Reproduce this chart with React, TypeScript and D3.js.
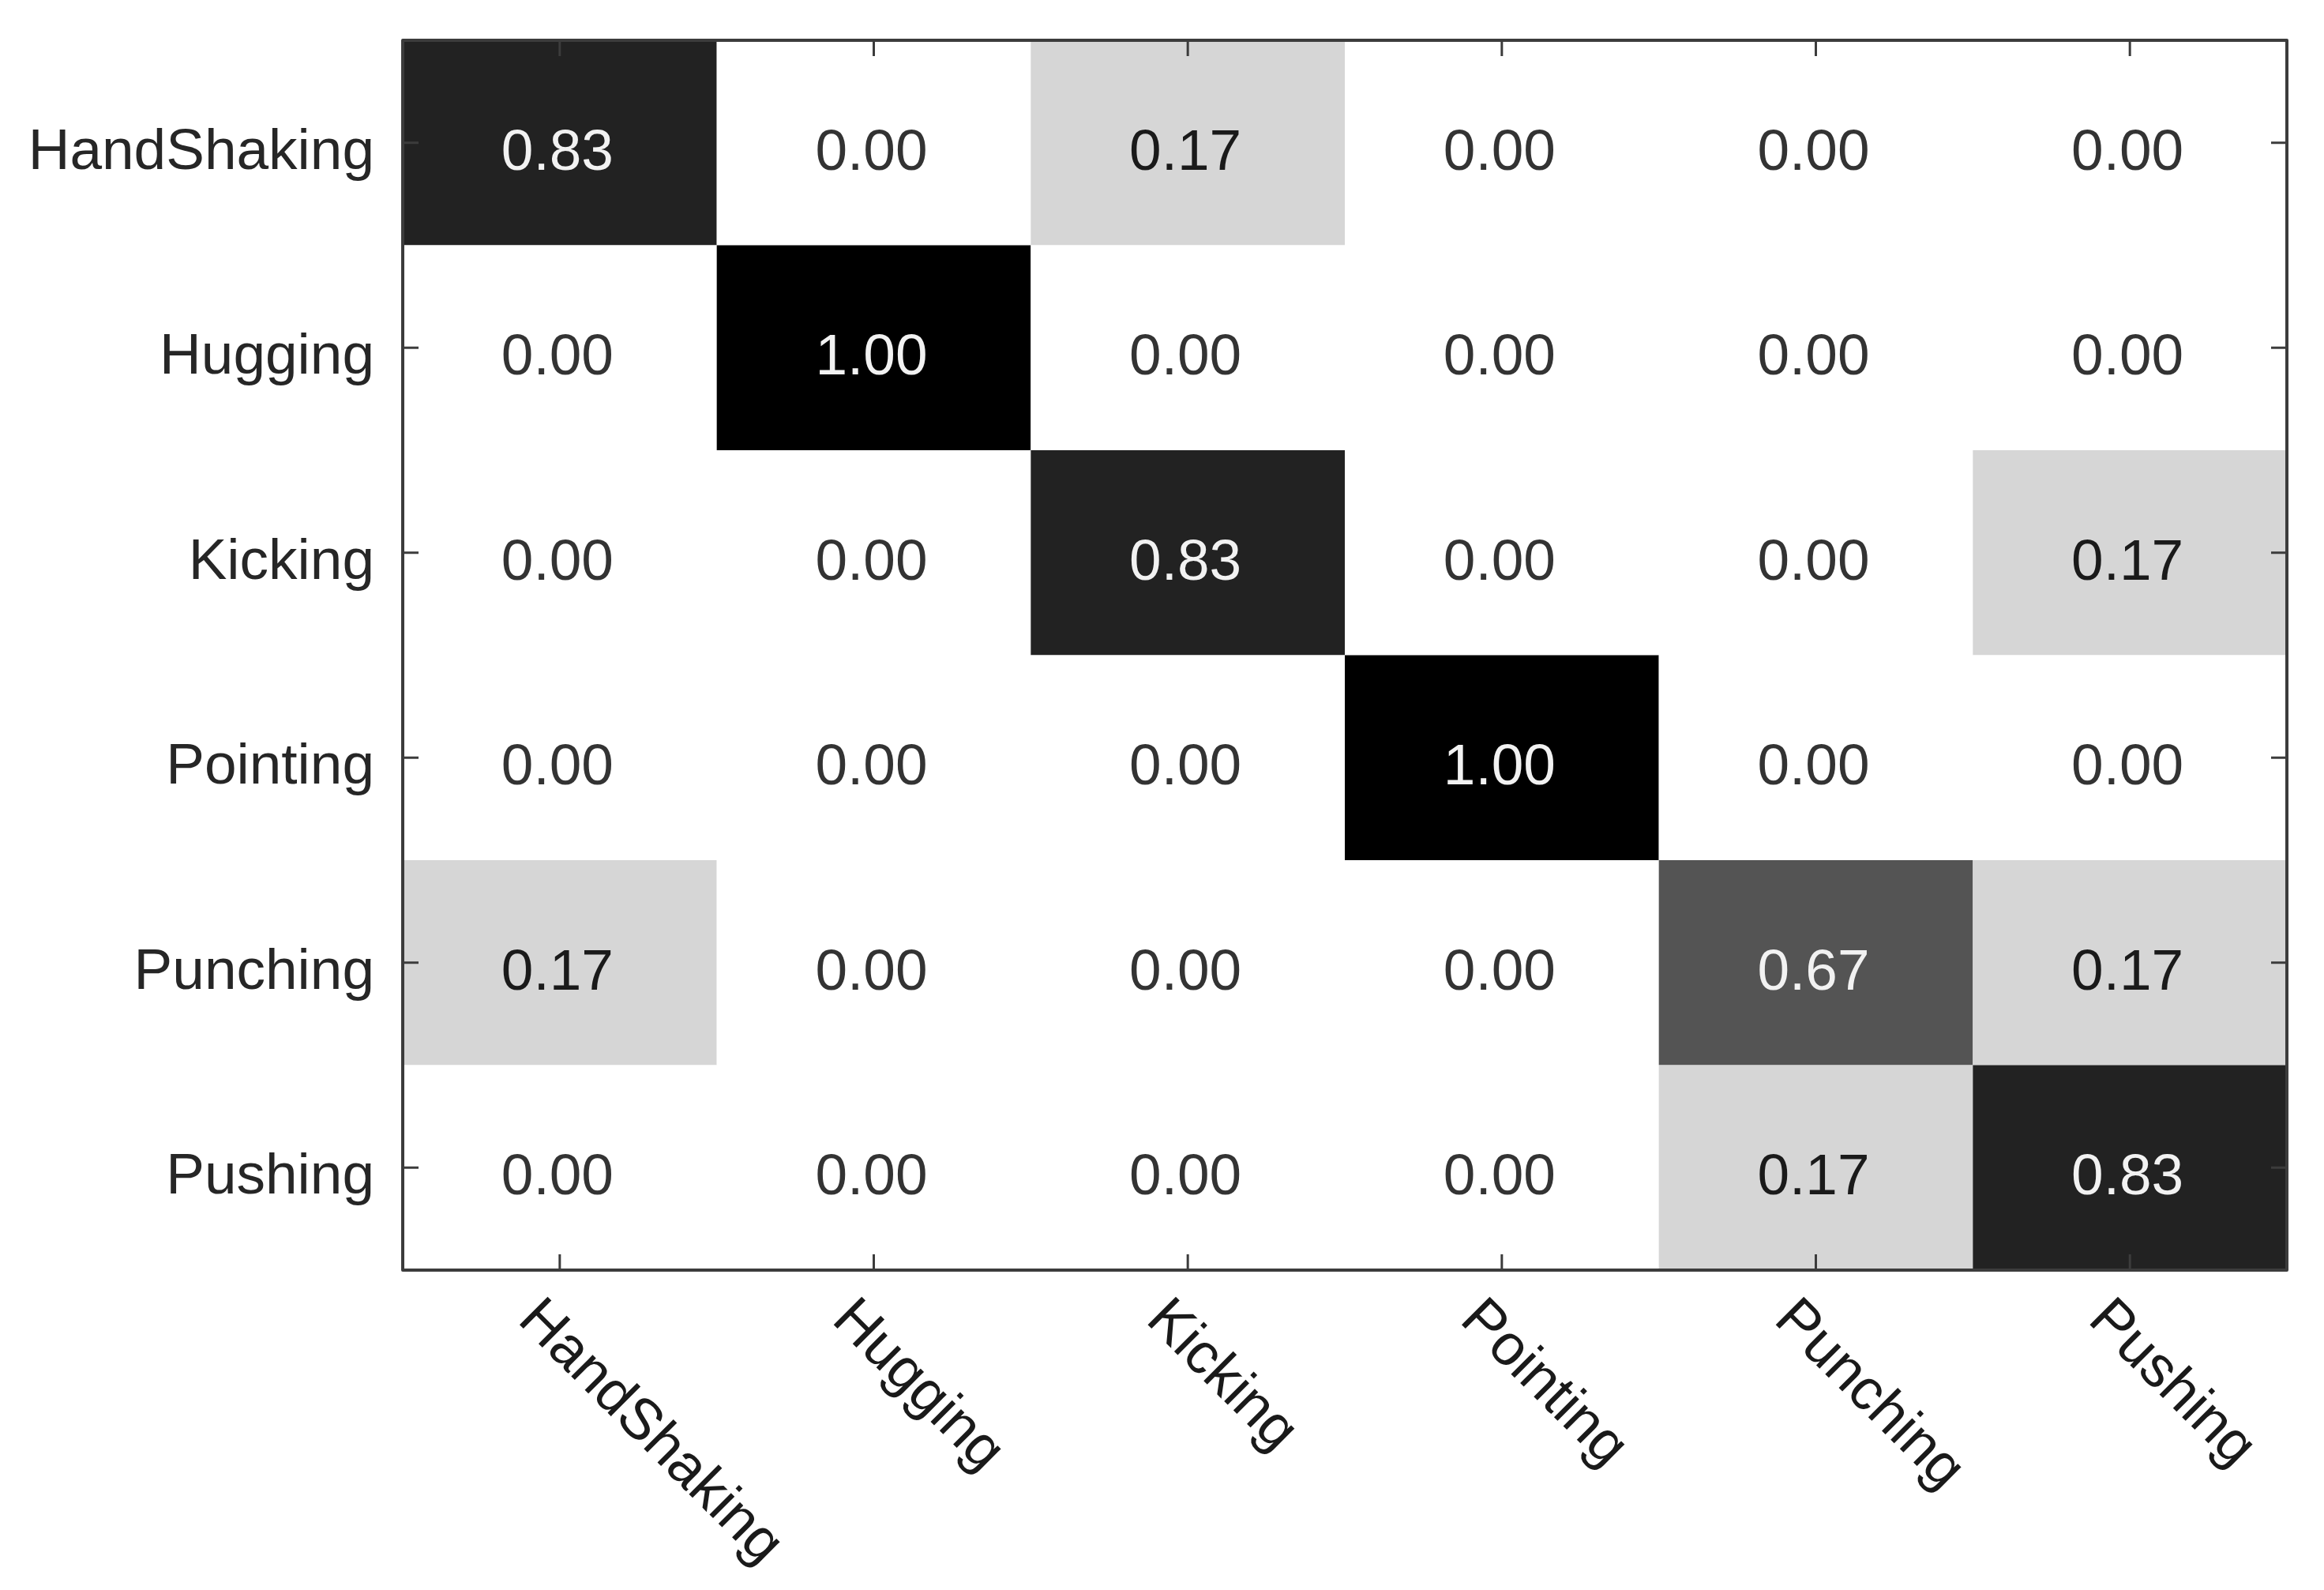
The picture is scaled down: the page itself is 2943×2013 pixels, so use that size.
import React from "react";
import * as d3 from "d3";

const categories = ["HandShaking", "Hugging", "Kicking", "Pointing", "Punching", "Pushing"];

const rowHandShaking = [0.83, 0.0, 0.17, 0.0, 0.0, 0.0];
const rowHugging = [0.0, 1.0, 0.0, 0.0, 0.0, 0.0];
const rowKicking = [0.0, 0.0, 0.83, 0.0, 0.0, 0.17];
const rowPointing = [0.0, 0.0, 0.0, 1.0, 0.0, 0.0];
const rowPunching = [0.17, 0.0, 0.0, 0.0, 0.67, 0.17];
const rowPushing = [0.0, 0.0, 0.0, 0.0, 0.17, 0.83];

const matrix = [rowHandShaking, rowHugging, rowKicking, rowPointing, rowPunching, rowPushing];

const W = 2943;
const H = 2013;
const left = 510;
const right = 2896;
const top = 51;
const bottom = 1608;

const FONT = "'Liberation Sans', Arial, Helvetica, sans-serif";

export default function App() {
  const x = d3.scaleBand<string>().domain(categories).range([left, right]).padding(0);
  const y = d3.scaleBand<string>().domain(categories).range([top, bottom]).padding(0);
  const color = d3
    .scaleLinear<string>()
    .domain([0, 0.17, 0.67, 0.83, 1])
    .range(["#ffffff", "#d6d6d6", "#545454", "#222222", "#000000"])
    .clamp(true);

  const cells: { r: string; c: string; v: number }[] = [];
  matrix.forEach((row, i) =>
    row.forEach((v, j) => cells.push({ r: categories[i], c: categories[j], v }))
  );

  const bw = x.bandwidth();
  const bh = y.bandwidth();
  const tickLen = 20;
  const axisColor = "#3c3c3c";

  return (
    <div style={{ position: "absolute", left: 0, top: 0 }}>
      <svg width={W} height={H} style={{ display: "block", background: "#ffffff" }}>
        <rect x={0} y={0} width={W} height={H} fill="#ffffff" />
        {cells.map((d, k) => (
          <rect
            key={"c" + k}
            x={x(d.c)!}
            y={y(d.r)!}
            width={bw}
            height={bh}
            fill={color(d.v)}
          />
        ))}
        {cells.map((d, k) => (
          <text
            key={"t" + k}
            x={x(d.c)! + bw / 2 - 3}
            y={y(d.r)! + bh / 2 + 34}
            textAnchor="middle"
            fontFamily={FONT}
            fontSize={73}
            fill={d.v > 0.5 ? "#f2f2f2" : d.v > 0 ? "#1a1a1a" : "#333333"}
          >
            {d.v.toFixed(2)}
          </text>
        ))}
        {/* ticks */}
        {categories.map((c) => {
          const cx = x(c)! + bw / 2;
          const cy = y(c)! + bh / 2;
          return (
            <g key={"tk" + c} stroke={axisColor} strokeWidth={3}>
              <line x1={cx} x2={cx} y1={bottom} y2={bottom - tickLen} />
              <line x1={cx} x2={cx} y1={top} y2={top + tickLen} />
              <line x1={left} x2={left + tickLen} y1={cy} y2={cy} />
              <line x1={right} x2={right - tickLen} y1={cy} y2={cy} />
            </g>
          );
        })}
        <rect
          x={left}
          y={top}
          width={right - left}
          height={bottom - top}
          fill="none"
          stroke={axisColor}
          strokeWidth={4}
          strokeLinejoin="round"
        />
        {/* y labels */}
        {categories.map((c) => (
          <text
            key={"yl" + c}
            x={left - 36}
            y={y(c)! + bh / 2 + 33}
            textAnchor="end"
            fontFamily={FONT}
            fontSize={73}
            fill="#262626"
          >
            {c}
          </text>
        ))}
        {/* x labels */}
        {categories.map((c) => {
          const cx = x(c)! + bw / 2;
          return (
            <text
              key={"xl" + c}
              transform={`translate(${cx - 55},${bottom + 65}) rotate(45)`}
              textAnchor="start"
              fontFamily={FONT}
              fontSize={73}
              fill="#1a1a1a"
            >
              {c}
            </text>
          );
        })}
      </svg>
    </div>
  );
}
